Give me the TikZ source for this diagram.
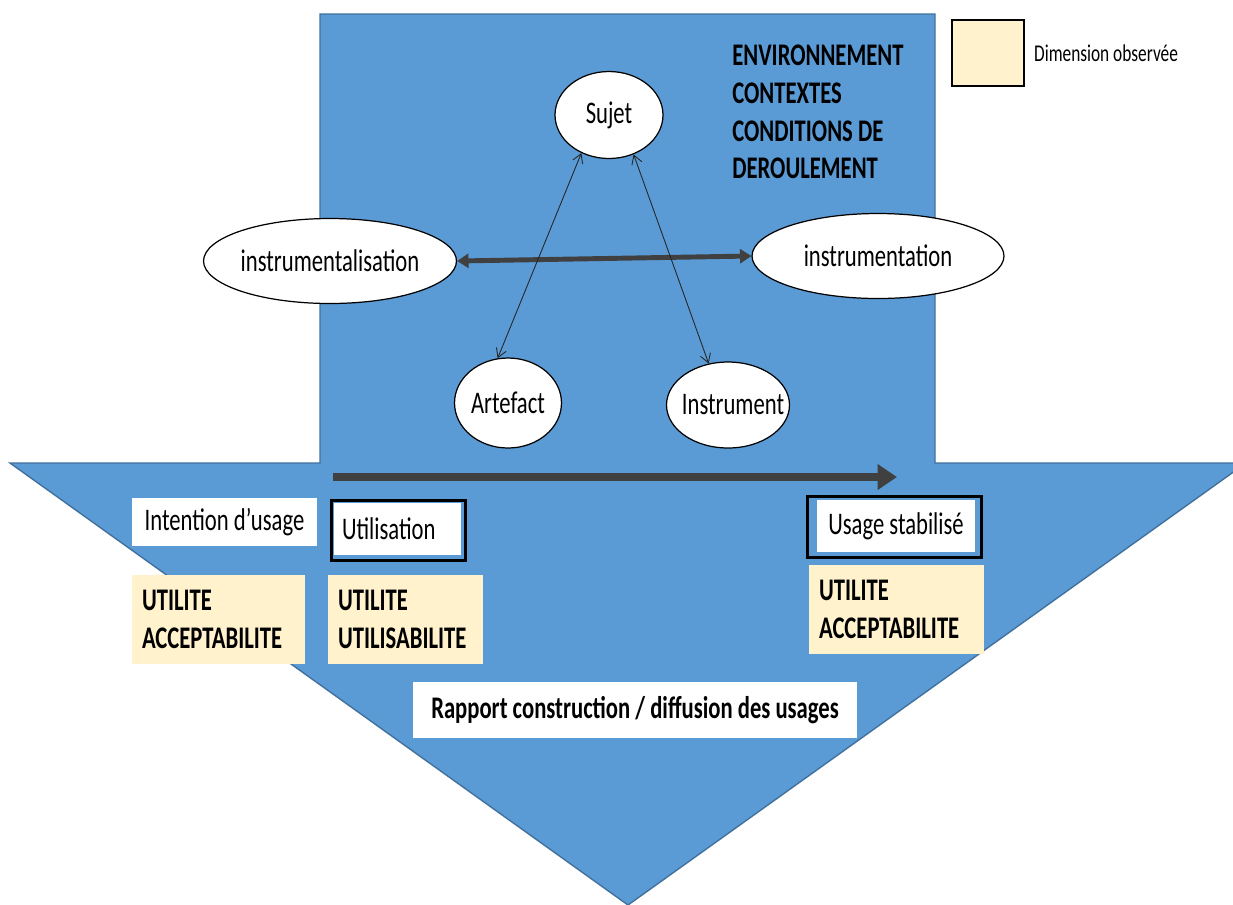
\documentclass[tikz,border=0pt]{standalone}
\usepackage{fontspec}
\setmainfont{Carlito}[FakeStretch=0.72]
\usetikzlibrary{shapes.geometric, arrows.meta, positioning}

\definecolor{arrowblue}{HTML}{5B9BD5}
\definecolor{edgeblue}{HTML}{41719C}
\definecolor{dimyellow}{HTML}{FFF2CC}
\definecolor{darkarrow}{HTML}{404040}
\newcommand{\labelsize}{\fontsize{17.9}{21.4}\selectfont}

\begin{document}
\begin{tikzpicture}[x=0.02cm, y=-0.02cm, font=\labelsize,
  ell/.style={ellipse, draw=black, fill=white, line width=0.7pt, inner sep=0pt},
  whitebox/.style={fill=white, inner sep=0pt, minimum height=1.04cm},
  dimbox/.style={fill=dimyellow, inner xsep=0.2cm, inner ysep=0pt, minimum height=1.78cm, align=left, font=\labelsize\bfseries},
  frame/.style={draw=black, line width=2pt},
  thinarrow/.style={draw=black!85, line width=0.5pt, {Straight Barb[length=5pt,width=6pt]}-{Straight Barb[length=5pt,width=6pt]}},
  fat/.style={draw=darkarrow, line width=4.5pt, -{Triangle[length=11pt,width=14pt]}}]
\useasboundingbox (0,0) rectangle (1233,904);
\clip (0,0) rectangle (1233,904);
\fill[white] (0,0) rectangle (1233,904);

% big arrow
\filldraw[fill=arrowblue, draw=edgeblue, line width=0.8pt] (320,463) -- (320,14) -- (935,14) -- (935,463) -- (1246,463) -- (628,905) -- (10,463) -- cycle;

% legend
\node[draw=black, line width=0.9pt, fill=dimyellow, minimum width=1.44cm, minimum height=1.32cm] (legendbox) at (988,53) {};
\node[right=0.18cm of legendbox, inner sep=0pt, font=\fontsize{13.7}{16}\selectfont] (legendtext) {Dimension observée};

\node[anchor=north west, align=left, inner sep=0pt, font=\labelsize\bfseries] (environnement) at (732,45) {ENVIRONNEMENT\\CONTEXTES\\CONDITIONS DE\\DEROULEMENT};

% ellipses
\node[ell, minimum width=2.16cm, minimum height=1.74cm, label=center:Sujet] (sujet) at (609,115) {};
\node[ell, minimum width=5.06cm, minimum height=1.7cm, label=center:instrumentalisation] (instrumentalisation) at (330,261) {};
\node[ell, minimum width=5.04cm, minimum height=1.7cm, label=center:instrumentation] (instrumentation) at (878,256) {};
\node[ell, minimum width=2.14cm, minimum height=1.8cm, label=center:Artefact] (artefact) at (508,403) {};
\node[ell, minimum width=2.46cm, minimum height=1.72cm, label={[xshift=0.1cm]center:Instrument}] (instrument) at (728,405) {};

\draw[darkarrow, line width=2.8pt, {Triangle[length=6.5pt,width=8pt]}-{Triangle[length=6.5pt,width=8pt]}] (instrumentalisation.east) -- (instrumentation.west);
\draw[thinarrow] (sujet.234) -- (artefact.103);
\draw[thinarrow] (sujet.-58) -- (instrument.115);

% flow of usage
\coordinate (flowstart) at (333,477);
\coordinate (flowend) at (897,477);
\draw[fat] (flowstart) -- (flowend);

\node[whitebox, minimum width=3.7cm, minimum height=0.96cm] (intention) at (224.5,522) {Intention d’usage};
\node[whitebox, minimum width=2.54cm, inner xsep=0.16cm, text width=2.22cm, align=left] (utilisation) at (397.5,529) {Utilisation};
\draw[frame] ([shift={(-2,-2)}]utilisation.north west) rectangle ([shift={(4,5)}]utilisation.south east);
\node[whitebox, minimum width=3.16cm] (stabilise) at (896,526) {Usage stabilisé};
\draw[frame] ([shift={(-9,-3)}]stabilise.north west) rectangle ([shift={(6,5)}]stabilise.south east);

\node[dimbox, text width=3.06cm] (dimintention) at (218.5,619.5) {UTILITE\\ACCEPTABILITE};
\node[dimbox, text width=2.7cm] (dimutilisation) at (405.5,619.5) {UTILITE\\UTILISABILITE};
\node[dimbox, text width=3.1cm] (dimstabilise) at (896.5,609.5) {UTILITE\\ACCEPTABILITE};

\node[whitebox, minimum width=8.88cm, minimum height=1.12cm, font=\labelsize\bfseries] (rapport) at (635,710) {Rapport construction / diffusion des usages};
\end{tikzpicture}
\end{document}
